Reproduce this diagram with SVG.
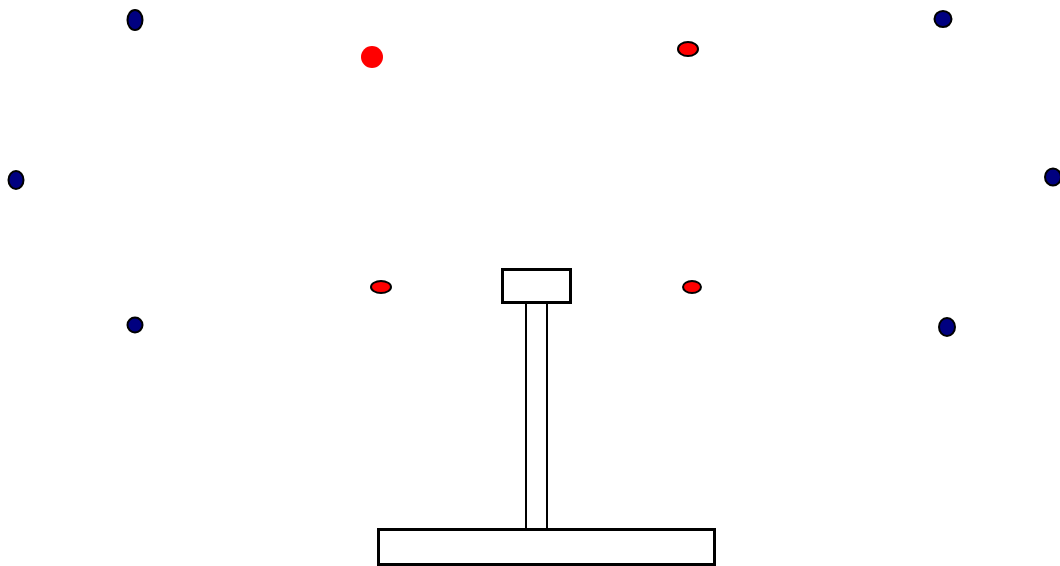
<svg xmlns="http://www.w3.org/2000/svg" width="1060" height="566" viewBox="0 0 1060 566">
<style>
.blue{fill:#000080;stroke:#000;stroke-width:2}
.red{fill:#ff0000;stroke:#000;stroke-width:2}
.redc{fill:#ff0000;stroke:none}
.box{fill:#fff;stroke:#000;stroke-width:3}
.stem{stroke:#000;stroke-width:2;fill:none}
</style>
<rect width="1060" height="566" fill="#fff"/>
<g id="dots">
<ellipse id="b1" class="blue" cx="135" cy="20" rx="7.5" ry="10"/>
<circle id="r1" class="redc" cx="372" cy="57" r="11"/>
<ellipse id="r2" class="red" cx="688" cy="49" rx="10" ry="7"/>
<ellipse id="b2" class="blue" cx="943" cy="19" rx="8.5" ry="8"/>
<ellipse id="b3" class="blue" cx="16" cy="180" rx="7.5" ry="9"/>
<ellipse id="b4" class="blue" cx="1053" cy="177" rx="8" ry="8.5"/>
<ellipse id="r3" class="red" cx="381" cy="287" rx="10" ry="6"/>
<ellipse id="r4" class="red" cx="692" cy="287" rx="9" ry="6"/>
<ellipse id="b5" class="blue" cx="135" cy="325" rx="7.5" ry="7.5"/>
<ellipse id="b6" class="blue" cx="947" cy="327" rx="8" ry="9"/>
</g>
<g id="stand">
<line class="stem" x1="526" y1="303" x2="526" y2="530"/>
<line class="stem" x1="547" y1="303" x2="547" y2="530"/>
<rect id="top" class="box" x="502.5" y="269.5" width="68" height="33"/>
<rect id="base" class="box" x="378.5" y="529.5" width="336" height="35"/>
</g>
</svg>
